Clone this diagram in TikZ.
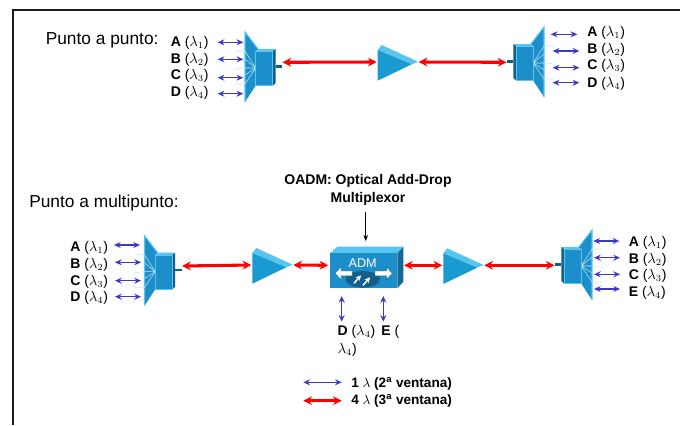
\documentclass[tikz,border=0pt]{standalone}
\usepackage{fontspec}
\setmainfont{Liberation Sans}
\usetikzlibrary{arrows.meta}
\definecolor{devblue}{HTML}{1C8FCB}
\definecolor{devlight}{HTML}{58C4F0}
\definecolor{devdark}{HTML}{125F8C}
\definecolor{raycol}{HTML}{BFE6F5}
\definecolor{laneblue}{HTML}{3A3ACB}
\newcommand{\lam}[2]{\textbf{#1} ($\lambda_{#2}$)}
\tikzset{
  oneline/.style={draw=laneblue,line width=1.1pt,{Stealth[length=5pt,width=4.5pt]}-{Stealth[length=5pt,width=4.5pt]}},
  fourline/.style={draw=red,line width=2.3pt,{Stealth[length=6.5pt,width=6.5pt]}-{Stealth[length=6.5pt,width=6.5pt]}},
  lbl/.style={anchor=west,inner sep=0pt,font=\fontsize{10.5}{12}\selectfont},
  title/.style={anchor=west,inner sep=0pt,font=\fontsize{13}{15}\selectfont},
  muxpic/.pic={
    \fill[devblue] (0,-35) -- (13.3,-17.7) -- (10.7,-16) -- (10.7,18.7) -- (0,35) -- cycle;
    \draw[devlight,line width=0.8pt] (0,35) -- (0,-35) -- (13.3,-17.7);
    \draw[raycol,line width=0.4pt] (10.7,1) -- (0,-16) -- (-10,-16)
      (10.7,1) -- (0,-8) (10.7,1) -- (0,1) -- (-10,2) (10.7,1) -- (0,8)
      (10.7,1) -- (0,17) -- (-10,17);
    \fill[devlight] (10.7,-15.3) -- (13.7,-18) -- (30.7,-18) -- (27.7,-15.3) -- cycle;
    \fill[devdark] (27.7,-15.3) -- (30.7,-18) -- (30.7,16) -- (27.7,18.7) -- cycle;
    \draw[fill=devblue,draw=devlight,line width=0.5pt] (10.7,-15.3) rectangle (27.7,18.7);
    \fill[devdark] (30.7,-2) rectangle (37,0.7);
    \coordinate (-port) at (37.5,0.3);
    \coordinate (-portup) at (37.5,-4.7);
  },
  amppic/.pic={
    \fill[devlight] (0,-15) -- (4,-20) -- (40.3,-3.3) -- (34,-0.7) -- cycle;
    \fill[devblue!90!cyan] (0,-15) -- (34,-0.7) -- (0,15.7) -- cycle;
    \coordinate (-in) at (-1,-3);
    \coordinate (-out) at (41,-3);
  },
  admpic/.pic={
    \fill[devlight] (0,0) -- (7.3,-6.6) -- (73.3,-6.6) -- (67.3,0) -- cycle;
    \fill[devdark!80!devblue] (67.3,0) -- (73.3,-6.6) -- (73.3,28.4) -- (67.3,35) -- cycle;
    \fill[devblue] (0,0) rectangle (67.3,35);
    \fill[devdark] (32.7,26) ellipse (17.3 and 8.3);
    \node[text=white,inner sep=0pt,font=\fontsize{9.5}{10}\selectfont] (-txt) at (32.7,9.5) {ADM};
    \draw[fill=white,draw=devdark,line width=0.3pt] (5,20) -- (11,13.5) -- (11,17.5) -- (22,17.5) -- (22,22.5) -- (11,22.5) -- (11,26.5) -- cycle;
    \draw[fill=white,draw=devdark,line width=0.3pt] (62.3,20) -- (56.3,13.5) -- (56.3,17.5) -- (45,17.5) -- (45,22.5) -- (56.3,22.5) -- (56.3,26.5) -- cycle;
    \draw[white,line width=1.1pt,-{Stealth[length=4pt,width=4pt]}] (24,30) -- (31,22);
    \draw[white,line width=1.1pt,-{Stealth[length=4pt,width=4pt]}] (33,32) -- (40,24);
    \coordinate (-w) at (-1.7,12);
    \coordinate (-e) at (74,12);
  }
}
\begin{document}
\begin{tikzpicture}[x=0.75pt,y=-0.75pt]
  \useasboundingbox (0,0) rectangle (680,425);
  \draw[line width=1.5pt,black!90] (12.5,425) -- (12.5,9.5) -- (680,9.5);
  % titles
  \node[title] (ptp) at (45.5,40) {Punto a punto:};
  \node[title] (ptm) at (29,203) {Punto a multipunto:};
  % devices
  \pic (muxa) at (245,67) {muxpic};
  \pic[xscale=-1] (muxb) at (544,62) {muxpic};
  \pic (ampa) at (377.7,65) {amppic};
  \pic (muxc) at (144.5,270.7) {muxpic};
  \pic[xscale=-1] (muxd) at (592,265) {muxpic};
  \pic (ampb) at (252.3,268) {amppic};
  \pic (ampc) at (443.3,268.3) {amppic};
  \pic (adm) at (330,253.3) {admpic};
  % links
  \draw[fourline] (muxa-portup) -- (ampa-in);
  \draw[fourline] (ampa-out) -- (muxb-port);
  \draw[fourline] (muxc-portup) -- (ampb-in);
  \draw[fourline] (ampb-out) -- (adm-w);
  \draw[fourline] (adm-e) -- (ampc-in);
  \draw[fourline] (ampc-out) -- (muxd-port);
  % channels
  \foreach \chn/\ltr/\k/\lx/\ly/\ax/\bx/\ay in {
    aa/A/1/170.5/43/217.7/243.3/42.3, ab/B/2/170.5/60/217.7/243.3/59.3,
    ac/C/3/170.5/76/217.7/243.3/77.7, ad/D/4/170.5/93/217.7/243.3/93.7,
    ba/A/1/587/33/550.7/577.3/34.3, bb/B/2/587/49.5/552.7/579.3/51,
    bc/C/3/587/66/552.7/579.3/67.7, bd/D/4/587/84/552.7/579.3/82.7,
    ca/A/1/70/248/114/140/245, cb/B/2/70/265/115/141/262.3,
    cc/C/3/70/281.5/115/141/280.7, cd/D/4/70/298/115/141/296.7,
    da/A/1/628.5/242.5/593.3/619.3/241, db/B/2/628.5/259.5/594/620/257.7,
    dc/C/3/628.5/276/594/620/274.3, dd/E/4/628.5/292.5/594/620/289}{
    \node[lbl] (lbl\chn) at (\lx,\ly) {\lam{\ltr}{\k}};
    \coordinate (\chn l) at (\ax,\ay);
    \coordinate (\chn r) at (\bx,\ay);
    \draw[oneline] (\chn l) -- (\chn r);
  }
  % add-drop
  \coordinate (dtop) at (341.7,296);
  \coordinate (dbot) at (341.7,321.7);
  \coordinate (etop) at (383.3,296);
  \coordinate (ebot) at (383.3,321.7);
  \draw[oneline] (dtop) -- (dbot);
  \draw[oneline] (etop) -- (ebot);
  \node[lbl] (lbld) at (337.3,332) {\lam{D}{4}};
  \node[lbl] (lble) at (381,332) {\textbf{E} (};
  \node[lbl] (lblf) at (337.3,350) {$\lambda_4$)};
  % oadm note
  \node[align=center,inner sep=0pt,font=\fontsize{10.5}{13.5}\selectfont\bfseries] (oadm) at (368,190) {OADM: Optical Add-Drop\\Multiplexor};
  \coordinate (oadmtop) at (365.7,211.5);
  \coordinate (oadmtip) at (365.7,241);
  \draw[line width=0.6pt,-{Stealth[length=4.5pt,width=3.5pt]}] (oadmtop) -- (oadmtip);
  % legend
  \coordinate (lega) at (303.3,382.3);
  \coordinate (legb) at (341.7,382.3);
  \coordinate (legc) at (303.3,400.7);
  \coordinate (legd) at (341.7,400.7);
  \draw[oneline] (lega) -- (legb);
  \draw[fourline] (legc) -- (legd);
  \node[lbl,font=\fontsize{10.2}{12}\selectfont] (legone) at (351,383.5) {\textbf{1 $\lambda$ (2\textsuperscript{a} ventana)}};
  \node[lbl,font=\fontsize{10.2}{12}\selectfont] (legfour) at (351,400.5) {\textbf{4 $\lambda$ (3\textsuperscript{a} ventana)}};
\end{tikzpicture}
\end{document}
